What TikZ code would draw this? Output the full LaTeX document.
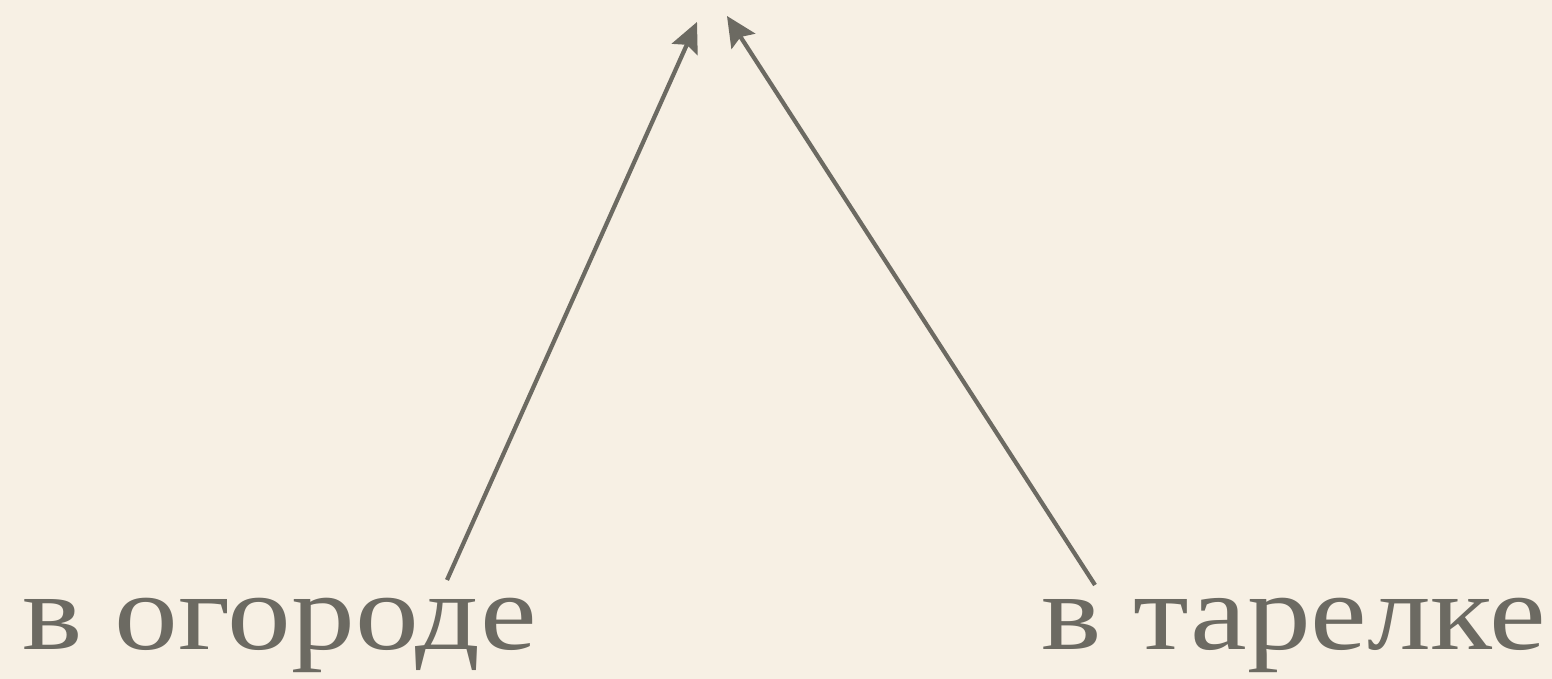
\documentclass[tikz,border=0pt]{standalone}
\usepackage{fontspec}
\setmainfont{Liberation Serif}
\usetikzlibrary{arrows.meta, positioning, calc}
\definecolor{Paper}{HTML}{F7F0E4}
\definecolor{Ink}{HTML}{6C6A62}
\tikzset{
  word/.style={text=Ink, inner sep=0pt,
    font=\fontsize{31}{31}\selectfont\addfontfeature{FakeStretch=1.17}},
  pointer/.style={-{Stealth[length=3mm, width=2.8mm, inset=0.5mm]}, line width=1.2pt, draw=Ink},
}

\begin{document}
\begin{tikzpicture}
    \fill[Paper] (0,0) rectangle (15.52,6.79);
    \useasboundingbox (0,0) rectangle (15.52,6.79);
    \node[word, anchor=base west] (ogorod) at (0.22,0.29) {в огороде};
    \node[word, anchor=base east] (tarelka) at (15.47,0.29) {в тарелке};
    \coordinate (tipA) at (6.97,6.57);
    \coordinate (tipB) at (7.27,6.63);
    \draw[pointer] ([shift={(4.25,0.70)}]ogorod.base west) -- (tipA);
    \draw[pointer] ([shift={(-4.52,0.65)}]tarelka.base east) -- (tipB);
  \end{tikzpicture}
\end{document}
